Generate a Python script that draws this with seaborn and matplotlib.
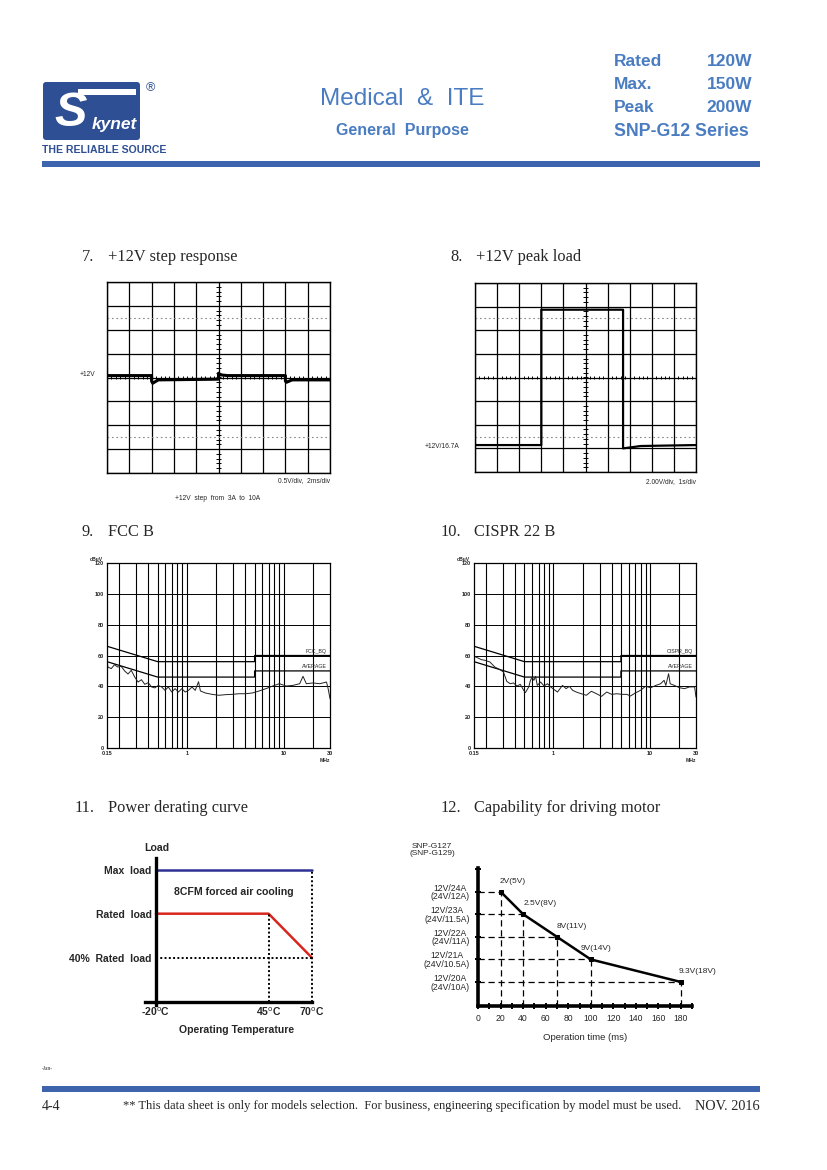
import matplotlib
matplotlib.use("Agg")
import matplotlib.pyplot as plt
from matplotlib.patches import Rectangle, FancyBboxPatch
import seaborn as sns
import numpy as np

# ---- data ----
# 7. step response (divisions)
step_t = [0, 2.0, 2.0, 2.05, 2.3, 5.0, 5.0, 5.1, 5.4, 8.0, 8.0, 8.05, 8.3, 10]
step_v = [0.08, 0.08, -0.15, -0.24, -0.1, -0.07, 0.18, 0.11, 0.08, 0.08, -0.15, -0.2, -0.1, -0.1]

# 8. peak load (divisions)
peak_t = [0, 3.0, 3.0, 6.7, 6.7, 7.5, 10]
peak_v = [-2.86, -2.86, 2.87, 2.87, -3.0, -2.9, -2.86]
peak_ref_t = [0, 3.17]
peak_ref_v = [-3.0, -3.0]

# 9./10. conducted emission (MHz, dBuV)
limit_freq = [0.15, 0.5, 0.5, 5, 5, 30]
qp_limit = [66, 56, 56, 56, 60, 60]
avg_limit = [56, 46, 46, 46, 50, 50]

fcc_freq = [0.15, 0.153, 0.166, 0.179, 0.194, 0.21, 0.228, 0.247, 0.267, 0.29, 0.314,
            0.34, 0.368, 0.399, 0.432, 0.468, 0.507, 0.549, 0.595, 0.644, 0.698, 0.756,
            0.819, 0.887, 0.961, 1.04, 1.13, 1.22, 1.32, 1.38, 1.55, 1.82, 2.14, 2.51,
            2.94, 3.45, 4.05, 4.75, 5.58, 6.55, 7.68, 9.01, 10.6, 12.4, 14.6, 15.8, 17.1,
            20.0, 23.5, 27.6, 28.7, 30]
fcc_level = [59, 52.5, 51.5, 54, 52.5, 53, 50, 48, 50.4, 46, 42.8,
             44.3, 41.3, 42.4, 39.6, 39, 40.6, 39.6, 37.4, 39.6, 36.3, 38.5,
             36.3, 38.5, 36.3, 37.4, 39.6, 37.4, 43, 37, 35.7, 34.8, 34.2, 34.6,
             34.8, 35.2, 35.2, 35.7, 37, 38.5, 40.2, 41.7, 40.2, 40.6, 41.7, 46.5, 41.7,
             42.2, 41.7, 42.8, 38.5, 32]

cispr_freq = [0.15, 0.165, 0.179, 0.194, 0.219, 0.247, 0.279, 0.303, 0.328, 0.356, 0.385,
              0.418, 0.453, 0.491, 0.511, 0.554, 0.577, 0.601, 0.626, 0.652, 0.679, 0.736,
              0.798, 0.865, 0.937, 1.02, 1.10, 1.24, 1.35, 1.46, 1.58, 1.72, 1.94, 2.19,
              2.47, 2.79, 3.15, 3.56, 4.01, 4.53, 5.11, 5.77, 6.26, 7.06, 7.97, 9.0, 10.2,
              11.5, 12.9, 14.0, 14.6, 15.6, 16.2, 17.9, 20.2, 22.8, 25.7, 29.0, 30]
cispr_level = [59.5, 58.4, 57.3, 56.9, 55.8, 52.5, 50.8, 49.3, 43.2, 41.7, 42.2,
               40.2, 41.3, 37.4, 35.9, 39.6, 43.9, 46, 43.9, 46.5, 40.6, 42.8,
               40.2, 41.7, 39.6, 37.8, 36.3, 40.6, 38.5, 40, 37.4, 36.3, 35.2, 34.2,
               36.8, 35.2, 33.5, 36.3, 34.8, 35.2, 34.8, 34.8, 33.7, 35.7, 37.4, 40, 39.1,
               40.6, 41.7, 43.9, 40.6, 48.2, 41.7, 40.6, 39.1, 38.5, 39.6, 39.6, 33]
emi_grid = [0.2, 0.3, 0.4, 0.5, 0.6, 0.7, 0.8, 0.9, 1, 2, 3, 4, 5, 6, 7, 8, 9, 10, 20]

# 11. derating
derate_temp = [-20, 45, 70]
max_load = [3, 3, 3]
rated_load = [2, 2, 1]
load_labels = ["40%  Rated  load", "Rated  load", "Max  load"]
temp_labels = ["-20$^{\\rm o}$C", "45$^{\\rm o}$C", "70$^{\\rm o}$C"]

# 12. motor capability
motor_time = [20, 40, 70, 100, 180]
motor_current = [24, 23, 22, 21, 20]
motor_notes = ["2V(5V)", "2.5V(8V)", "8V(11V)", "9V(14V)", "9.3V(18V)"]
current_labels = ["12V/20A\n(24V/10A)", "12V/21A\n(24V/10.5A)", "12V/22A\n(24V/11A)",
                  "12V/23A\n(24V/11.5A)", "12V/24A\n(24V/12A)"]

sns.set_theme(style="white")
plt.rcParams["font.family"] = ["Liberation Sans", "DejaVu Sans"]

W, H = 827, 1170
HEAD = "#4a7cc1"
BAR = "#3f64ae"
LOGO = "#2e4f94"
SERIF = "Liberation Serif"

fig = plt.figure(figsize=(8.27, 11.70), dpi=100)
page = fig.add_axes([0, 0, 1, 1])
page.set_xlim(0, W)
page.set_ylim(H, 0)
page.axis("off")


def panel(x0, y0, x1, y1):
    return fig.add_axes([x0 / W, 1 - y1 / H, (x1 - x0) / W, (y1 - y0) / H])


# ---- header ----
page.add_patch(FancyBboxPatch((46, 85), 91, 52, boxstyle="round,pad=3", fc=LOGO, ec="none"))
page.add_patch(Rectangle((78, 89), 58, 6, fc="white", ec="none"))
page.text(54, 113, "S", color="white", fontsize=35, fontweight="bold", fontstyle="italic",
          va="center", ha="left")
page.text(92, 125, "kynet", color="white", fontsize=12.5, fontweight="bold", fontstyle="italic",
          va="center", ha="left")
page.text(150, 88, "®", color=LOGO, fontsize=9, va="center", ha="center")
page.text(42, 150, "THE RELIABLE SOURCE", color=LOGO, fontsize=7.6, fontweight="bold", va="center")
page.text(402, 99, "Medical  &  ITE", color=HEAD, fontsize=17.5, ha="center", va="center")
page.text(402, 130, "General  Purpose", color=HEAD, fontsize=11.5, fontweight="bold",
          ha="center", va="center")
for i, (a, b) in enumerate([("Rated", "120W"), ("Max.", "150W"), ("Peak", "200W")]):
    page.text(614, 61 + 23.5 * i, a, color=HEAD, fontsize=12.5, fontweight="bold", va="center")
    page.text(752, 61 + 23.5 * i, b, color=HEAD, fontsize=12.5, fontweight="bold",
              va="center", ha="right")
page.text(614, 131, "SNP-G12 Series", color=HEAD, fontsize=12.8, fontweight="bold", va="center")
page.add_patch(Rectangle((42, 161), 718, 6, fc=BAR, ec="none"))

# ---- section titles ----
titles = [(82, 108, 257, "7.", "+12V step response"), (450, 476, 257, "8.", "+12V peak load"),
          (82, 108, 532, "9.", "FCC B"), (441, 474, 532, "10.", "CISPR 22 B"),
          (75, 108, 808, "11.", "Power derating curve"),
          (441, 474, 808, "12.", "Capability for driving motor")]
for xn, xt, yt, num, txt in titles:
    page.text(xn, yt, num, fontsize=11.8, family=SERIF, va="center")
    page.text(xt, yt, txt, fontsize=11.8, family=SERIF, va="center")


# ---- scope screens ----
def scope(ax):
    ax.set_xlim(0, 10)
    ax.set_ylim(-4, 4)
    ax.set_xticks(np.arange(0, 11))
    ax.set_yticks(np.arange(-4, 5))
    ax.grid(True, color="black", lw=0.9)
    ax.tick_params(length=0, labelbottom=False, labelleft=False)
    for s in ax.spines.values():
        s.set_color("black")
        s.set_linewidth(1)
    for yy in (-2.5, 2.5):
        ax.axhline(yy, color="#888888", lw=0.8, ls=(0, (1.5, 2.5)))
    ax.hlines(np.arange(-4, 4.01, 0.2), 4.9, 5.1, color="black", lw=0.7)
    ax.vlines(np.arange(0, 10.01, 0.2), -0.08, 0.08, color="black", lw=0.7)


ax7 = panel(107, 282, 330, 473)
scope(ax7)
sns.lineplot(x=step_t, y=step_v, ax=ax7, color="black", lw=2.2, estimator=None, sort=False)
page.text(80, 374, "+12V", fontsize=4.8, va="center")
page.text(330, 481, "0.5V/div,  2ms/div", fontsize=4.8, va="center", ha="right")
page.text(218, 499, "+12V  step  from  3A  to  10A", fontsize=4.8, va="center", ha="center")

ax8 = panel(475, 283, 696, 472)
scope(ax8)
sns.lineplot(x=peak_ref_t, y=peak_ref_v, ax=ax8, color="black", lw=0.7, estimator=None, sort=False)
sns.lineplot(x=peak_t, y=peak_v, ax=ax8, color="black", lw=1.6, estimator=None, sort=False)
page.text(425, 446, "+12V/16.7A", fontsize=4.8, va="center")
page.text(696, 482, "2.00V/div,  1s/div", fontsize=4.8, va="center", ha="right")


# ---- EMI plots ----
def emi(ax, freq, level, name):
    ax.set_xscale("log")
    ax.set_xlim(0.15, 30)
    ax.set_ylim(0, 120)
    for f in emi_grid:
        ax.axvline(f, color="black", lw=0.8)
    for yy in range(20, 120, 20):
        ax.axhline(yy, color="black", lw=0.7)
    ax.set_xticks([0.15, 1, 10, 30])
    ax.set_xticklabels(["0.15", "1", "10", "30"])
    ax.minorticks_off()
    ax.set_yticks(range(0, 121, 20))
    ax.tick_params(length=0, labelsize=4, pad=2)
    for lab in ax.get_xticklabels() + ax.get_yticklabels():
        lab.set_fontweight("bold")
    for s in ax.spines.values():
        s.set_color("black")
        s.set_linewidth(0.9)
    sns.lineplot(x=limit_freq, y=qp_limit, ax=ax, color="black", lw=0.9, estimator=None, sort=False)
    sns.lineplot(x=limit_freq, y=avg_limit, ax=ax, color="black", lw=0.9, estimator=None, sort=False)
    sns.lineplot(x=freq, y=level, ax=ax, color="#222222", lw=0.7, estimator=None, sort=False)
    ax.text(28, 61, name, fontsize=3.8, ha="right", va="bottom")
    ax.text(28, 51, "AVERAGE", fontsize=3.8, ha="right", va="bottom")
    ax.text(-0.02, 1.005, "dBuV", transform=ax.transAxes, fontsize=3.6, fontweight="bold",
            ha="right", va="bottom")
    ax.text(1.0, -0.055, "MHz", transform=ax.transAxes, fontsize=3.6, fontweight="bold",
            ha="right", va="top")


ax9 = panel(107, 563, 330, 748)
emi(ax9, fcc_freq, fcc_level, "FCC_BQ")
ax10 = panel(474, 563, 696, 748)
emi(ax10, cispr_freq, cispr_level, "CISPR_BQ")

# ---- power derating ----
ax11 = panel(145, 852, 318, 1004)
ax11.set_xlim(-26.3, 73.5)
ax11.set_ylim(-0.05, 3.4)
sns.lineplot(x=[derate_temp[0], derate_temp[-1]], y=[max_load[0], max_load[-1]], ax=ax11,
             color="#2e3192", lw=1.8, estimator=None)
sns.lineplot(x=derate_temp, y=rated_load, ax=ax11, color="#d7261e", lw=1.8, estimator=None)
ax11.vlines(derate_temp[1], 0, rated_load[1], color="black", lw=1.4, ls=(0, (1, 1.2)))
ax11.vlines(derate_temp[2], 0, max_load[2], color="black", lw=1.4, ls=(0, (1, 1.2)))
ax11.hlines(rated_load[2], derate_temp[0], derate_temp[2], color="black", lw=1.4, ls=(0, (1, 1.2)))
for s in ("top", "right"):
    ax11.spines[s].set_visible(False)
ax11.spines["left"].set_position(("data", -20))
ax11.spines["bottom"].set_position(("data", 0))
ax11.spines["left"].set_bounds(-0.07, 3.27)
ax11.spines["bottom"].set_bounds(-26.3, 70)
for s in ("left", "bottom"):
    ax11.spines[s].set_color("black")
    ax11.spines[s].set_linewidth(2.4)
ax11.set_yticks([1, 2, 3])
ax11.set_yticklabels(load_labels)
ax11.set_xticks(derate_temp)
ax11.set_xticklabels(temp_labels)
ax11.tick_params(length=0, labelsize=7.5, pad=3)
for lab in ax11.get_xticklabels() + ax11.get_yticklabels():
    lab.set_fontweight("bold")
ax11.text(25, 2.5, "8CFM forced air cooling", fontsize=7.6, fontweight="bold", ha="center", va="center")
page.text(157, 848, "Load", fontsize=7.6, fontweight="bold", ha="center", va="center")
page.text(237, 1030, "Operating Temperature", fontsize=7.6, fontweight="bold", ha="center", va="center")

# ---- motor capability ----
ax12 = panel(478, 862, 693, 1006)
ax12.set_xlim(0, 190.6)
ax12.set_ylim(18.94, 25.31)
ax12.hlines(motor_current, 0, motor_time, color="black", lw=0.9, ls=(0, (5, 3)))
ax12.vlines(motor_time, 18.94, motor_current, color="black", lw=0.9, ls=(0, (5, 3)))
sns.lineplot(x=motor_time, y=motor_current, ax=ax12, color="black", lw=1.8, estimator=None,
             marker="s", markersize=3.5, markeredgecolor="black")
offsets = [(-1, 5), (0, 5), (0, 5), (-7, 5), (-2, 5)]
for t, c, note, off in zip(motor_time, motor_current, motor_notes, offsets):
    ax12.annotate(note, (t, c), xytext=off, textcoords="offset points", fontsize=6,
                  ha="left", va="bottom", annotation_clip=False)
for s in ("top", "right"):
    ax12.spines[s].set_visible(False)
ax12.spines["left"].set_bounds(18.94, 25.04)
ax12.spines["bottom"].set_bounds(0, 190)
for s in ("left", "bottom"):
    ax12.spines[s].set_color("black")
    ax12.spines[s].set_linewidth(2.6)
ax12.set_xticks(range(0, 181, 20))
ax12.set_xticks(range(10, 191, 20), minor=True)
ax12.set_yticks(motor_current[::-1])
ax12.set_yticklabels(current_labels, multialignment="center", linespacing=0.95)
ax12.set_yticks([25], minor=True)
ax12.tick_params(which="both", direction="inout", length=4, width=1.4, color="black",
                 bottom=True, left=True, labelsize=6.2, pad=4)
page.text(432, 850, "SNP-G127\n(SNP-G129)", fontsize=6, ha="center", va="center", linespacing=0.95)
page.text(585, 1038, "Operation time (ms)", fontsize=6.8, ha="center", va="center")

# ---- footer ----
page.text(42, 1068, "-Jan-", fontsize=4, family=SERIF, va="center")
page.add_patch(Rectangle((42, 1086), 718, 6, fc=BAR, ec="none"))
page.text(42, 1106, "4-4", fontsize=10, family=SERIF, va="center")
page.text(123, 1106, "** This data sheet is only for models selection.  For business, engineering "
          "specification by model must be used.", fontsize=9, family=SERIF, va="center")
page.text(760, 1106, "NOV. 2016", fontsize=10.3, family=SERIF, va="center", ha="right")

fig.savefig("out.png", dpi=100)
